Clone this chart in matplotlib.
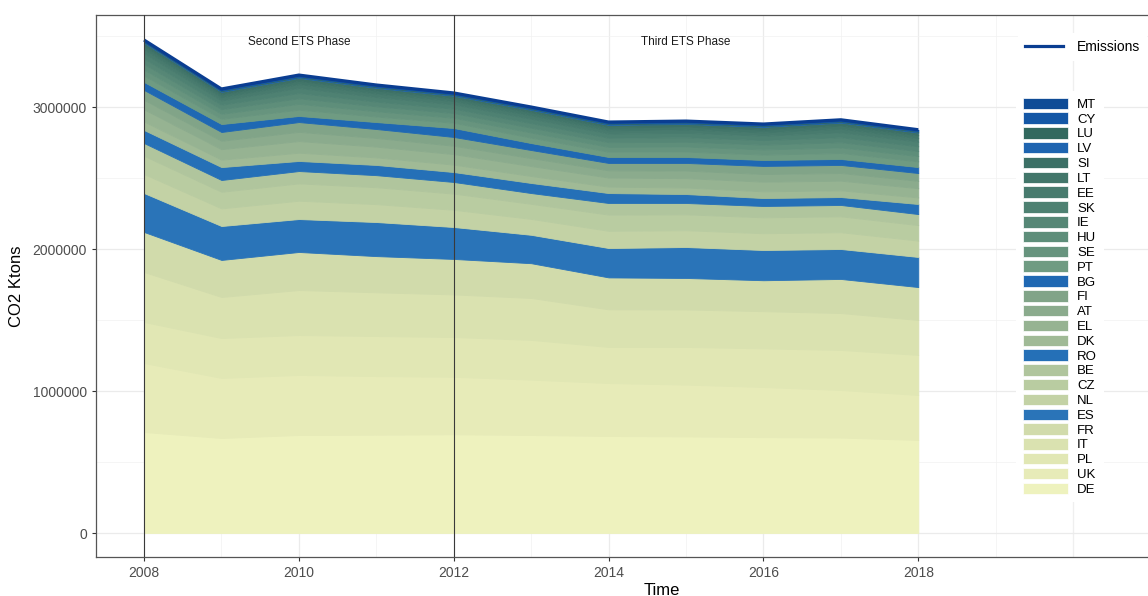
import numpy as np
import matplotlib.pyplot as plt
from matplotlib.patches import Patch
from matplotlib.lines import Line2D
from matplotlib.ticker import MultipleLocator

plt.rcParams['font.family'] = ['Liberation Sans', 'DejaVu Sans']

years = np.arange(2008, 2019)

# CO2 per country, thousands of ktons (stack order: bottom to top)
countries = ['DE', 'UK', 'PL', 'IT', 'FR', 'ES', 'NL', 'CZ', 'BE', 'RO', 'DK', 'EL', 'AT', 'FI',
             'BG', 'PT', 'SE', 'HU', 'IE', 'SK', 'EE', 'LT', 'SI', 'LV', 'LU', 'CY', 'MT']
DE = [711, 669, 690, 692, 695, 690, 683, 680, 675, 672, 655]
UK = [486, 423, 423, 413, 405, 390, 373, 365, 353, 335, 317]
PL = [289, 281, 281, 282, 280, 280, 254, 265, 272, 282, 282]
IT = [352, 289, 317, 308, 300, 295, 265, 264, 262, 260, 246]
FR = [282, 261, 268, 255, 250, 245, 225, 222, 218, 240, 232]
ES = [274, 239, 232, 240, 225, 200, 207, 218, 213, 211, 212]
NL = [134, 124, 129, 126, 121, 112, 121, 118, 118, 118, 115]
CZ = [128, 117, 122, 119, 114, 106, 114, 112, 112, 112, 109]
BE = [90, 83, 87, 85, 82, 76, 82, 80, 80, 80, 78]
RO = [92, 91, 71, 72, 70, 71, 70, 63, 56, 56, 71]
DK = [60, 52, 58, 53, 52, 49, 45, 46, 47, 47, 46]
EL = [85, 74, 82, 76, 74, 70, 64, 66, 68, 68, 65]
AT = [67, 59, 65, 61, 59, 56, 51, 53, 54, 54, 52]
FI = [70, 62, 69, 63, 62, 57, 52, 54, 57, 57, 55]
BG = [56, 56, 43, 49, 63, 49, 42, 42, 42, 42, 42]
PT = [45, 37, 44, 39, 37, 38, 37, 38, 38, 42, 40]
SE = [42, 35, 41, 37, 35, 36, 34, 35, 36, 39, 37]
HU = [40, 33, 39, 35, 33, 34, 33, 34, 34, 37, 35]
IE = [38, 31, 37, 33, 31, 32, 31, 32, 32, 35, 34]
SK = [37, 30, 36, 32, 30, 31, 30, 31, 31, 34, 33]
EE = [28, 23, 27, 25, 23, 24, 23, 24, 23, 26, 24]
LT = [24, 20, 23, 21, 20, 21, 20, 20, 20, 22, 21]
SI = [22, 18, 21, 19, 18, 18, 18, 19, 19, 21, 19]
LV = [5, 5, 5, 5, 5, 5, 5, 5, 5, 5, 5]
LU = [4, 4, 4, 4, 4, 4, 4, 4, 4, 4, 4]
CY = [8, 8, 8, 8, 8, 8, 8, 8, 8, 8, 8]
MT = [3, 3, 3, 3, 3, 3, 3, 3, 3, 3, 3]

series = [DE, UK, PL, IT, FR, ES, NL, CZ, BE, RO, DK, EL, AT, FI,
          BG, PT, SE, HU, IE, SK, EE, LT, SI, LV, LU, CY, MT]
colors = ['#EEF2BE', '#E7EBB8', '#E1E7B4', '#DAE2B0', '#D1DBAB', '#2A74B8', '#C3D2A5',
          '#B9CCA1', '#B0C59D', '#2570B7', '#A0BA96', '#96B392', '#8BAB8D', '#81A488',
          '#1F68B3', '#6F9B82', '#67947E', '#5E8E7A', '#568776', '#4E8172', '#487B6E',
          '#42766A', '#3C7066', '#1E64B0', '#32695F', '#1457A6', '#0E4B96']

values = np.array(series) * 1000
total = values.sum(axis=0)

fig = plt.figure(figsize=(11.48, 5.96), dpi=100)
ax = fig.add_axes([96 / 1148, 39 / 596, 1132 / 1148, 542 / 596])

polys = ax.stackplot(years, values, colors=colors, linewidth=0.6, zorder=2)
for p, c in zip(polys, colors):
    p.set_edgecolor(c)
ax.plot(years, total, color='#0A3D91', lw=2.3, zorder=4, solid_capstyle='butt')

# ETS phase markers
ax.axvline(2008, color='#3a3a3a', lw=0.8, zorder=5)
ax.axvline(2012, color='#3a3a3a', lw=0.8, zorder=5)
ax.text(2010, 3.46e6, 'Second ETS Phase', ha='center', va='center', fontsize=8.5, color='#1a1a1a')
ax.text(2015, 3.46e6, 'Third ETS Phase', ha='center', va='center', fontsize=8.5, color='#1a1a1a')

ax.set_xlim(2007.38, 2022)
ax.set_ylim(-169000, 3648000)
ax.set_xticks(np.arange(2008, 2019, 2))
ax.set_yticks([0, 1000000, 2000000, 3000000])
ax.set_yticklabels(['0', '1000000', '2000000', '3000000'])
ax.xaxis.set_minor_locator(MultipleLocator(1))
ax.yaxis.set_minor_locator(MultipleLocator(500000))
ax.grid(which='major', color='#EBEBEB', lw=0.9, zorder=0)
ax.grid(which='minor', color='#F2F2F2', lw=0.5, zorder=0)
for xv in [2020, 2022]:
    ax.axvline(xv, color='#EBEBEB', lw=0.9, zorder=0)
ax.set_axisbelow(True)
ax.tick_params(which='major', length=3, color='#333333', labelcolor='#4D4D4D', labelsize=10)
ax.tick_params(which='minor', length=0)
for s in ax.spines.values():
    s.set_color('#555555')
    s.set_linewidth(0.9)

ax.set_xlabel('Time', fontsize=12, labelpad=2)
ax.set_ylabel('CO2 Ktons', fontsize=12, labelpad=6)

leg1 = fig.legend(handles=[Line2D([], [], color='#0A3D91', lw=2.3)], labels=['Emissions'],
                  loc='upper left', bbox_to_anchor=(1018 / 1148, 1 - 33 / 596),
                  frameon=True, facecolor='white', edgecolor='none', framealpha=1,
                  fontsize=10, handlelength=2.73, handletextpad=1.0, borderpad=0.5,
                  borderaxespad=0)
fig.add_artist(leg1)

handles = [Patch(facecolor=c, edgecolor='white', lw=0.5) for c in colors][::-1]
fig.legend(handles=handles, labels=countries[::-1], loc='upper left',
           bbox_to_anchor=(1016.4 / 1148, 1 - 91 / 596), frameon=True, facecolor='white',
           edgecolor='none', framealpha=1, fontsize=9.5, handlelength=3.4, handleheight=0.96,
           labelspacing=0.117, handletextpad=0.7, borderpad=0.5, borderaxespad=0)

fig.savefig('out.png', dpi=100)
